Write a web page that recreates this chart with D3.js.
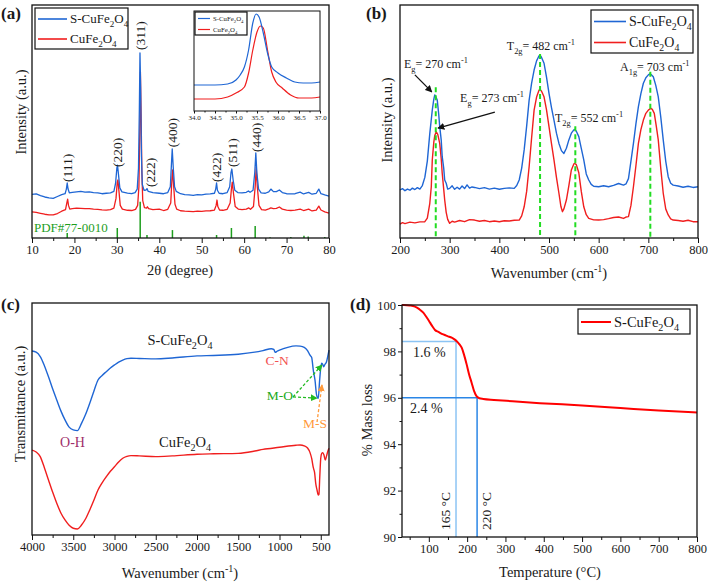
<!DOCTYPE html>
<html><head><meta charset="utf-8">
<script src="https://cdn.jsdelivr.net/npm/d3@7"></script>
<style>
body{margin:0;background:#fff}
svg{display:block}
svg text{font-family:"Liberation Serif","Times New Roman",Times,serif !important;fill:#1a1a1a}
</style>
</head><body>
<svg id="fig" width="708" height="584"></svg>
<script>
// ===================== DATA =====================
// (a) XRD patterns: [2theta, intensity (a.u.)]
const xrdBlue = [[10,18.7],[11,18.9],[12,18.2],[13,17.6],[14,17.2],[15,17.0],[16,17.8],[17,18.6],[17.8,19.0],[18.1,21.0],[18.3,23.6],[18.5,21.0],[18.8,19.4],[19.5,19.6],[20.5,19.8],[21.5,20.0],[22.5,19.7],[23.5,19.8],[24.5,19.5],[25.5,19.4],[26.5,19.0],[27.5,19.2],[28.5,19.4],[29.3,20.0],[29.7,23.5],[30.0,30.0],[30.15,31.3],[30.4,27],[30.7,21.5],[31.2,19.8],[32.5,19.3],[33.5,19.0],[34.3,19.5],[34.8,21],[35.1,30],[35.3,55],[35.45,79.4],[35.6,65],[35.8,35],[36.0,23],[36.4,20.5],[36.9,20.6],[37.1,21.2],[37.4,20],[38.5,19.5],[40,19.2],[41,19.0],[42,19.5],[42.6,22],[42.9,33],[43.05,38.2],[43.3,30],[43.6,22],[44,20],[45,19.0],[46,18.6],[47,18.5],[48,18.3],[49,18.6],[50,18.5],[51,18.8],[52,18.9],[53,19.2],[53.3,21],[53.5,23.6],[53.7,20.5],[54.1,19.2],[55,19.0],[56,19.5],[56.6,22],[56.9,28],[57.1,29.6],[57.4,25],[57.8,20.5],[58.5,19.5],[59.5,19.4],[60.5,19.6],[61,20.2],[61.4,19.6],[62.1,20.5],[62.5,28],[62.75,36.5],[63.0,28],[63.4,21],[64,19.4],[65,19.2],[65.8,19.8],[66.3,21],[66.9,19.9],[67.6,19.9],[68.3,20.6],[69,19.5],[70,19],[71,18.9],[72,19],[73.2,19.7],[74,18.9],[75.2,19.6],[76,18.8],[77,19.2],[77.6,21],[78.1,19],[79,18.5],[80,18.0]];
const xrdRed = [[10,11.2],[11,11.0],[12,10.6],[13,10.2],[14,9.9],[15,9.9],[16,10.5],[17,11.5],[17.9,12.2],[18.2,15],[18.4,16.7],[18.6,14],[18.9,12.4],[19.5,12.6],[20.5,12.8],[21.5,12.7],[22.5,12.6],[23.5,12.6],[24.5,12.4],[25.5,12.3],[26.5,12.1],[27.5,12.0],[28.5,12.2],[29.3,12.8],[29.8,17],[30.1,24],[30.25,24.9],[30.5,20],[30.8,14],[31.3,12.4],[32.5,11.9],[33.5,11.8],[34.4,12.3],[34.9,14],[35.2,22],[35.4,45],[35.55,71.2],[35.7,55],[35.9,28],[36.1,16],[36.5,13],[37.0,12.8],[37.2,13.4],[37.5,12.6],[38.5,12.2],[40,12.4],[41,11.8],[42,12.3],[42.7,15],[43.0,26],[43.15,29.2],[43.4,22],[43.7,14.5],[44.1,12.4],[45,11.7],[46,11.5],[47,11.4],[48,11.3],[49,11.5],[50,11.4],[51,11.6],[52,11.7],[53,12.0],[53.4,14],[53.6,16.3],[53.8,13.5],[54.2,12],[55,11.9],[56,12.3],[56.7,15],[57.0,21],[57.2,24],[57.5,19],[57.9,13.5],[58.6,12.4],[59.5,12.2],[60.5,12.4],[61.1,12.9],[61.5,12.3],[62.2,13.5],[62.6,22],[62.85,30.5],[63.1,22],[63.5,14],[64.1,12.2],[65,12.0],[65.8,12.5],[66.3,12.9],[66.9,12.6],[67.6,12.7],[68.3,13.3],[69,12.4],[70,12],[71,11.8],[72,12],[73.2,12.4],[74,11.8],[75.2,12.4],[76,11.6],[77,12.0],[77.6,13.7],[78.1,12],[79,11.2],[80,10.7]];
// reference pattern PDF#77-0010 : positions and heights
const refPos = [18.3,30.1,35.5,37.1,43.1,53.5,57.0,62.6,66.1,71.0,74.1,75.1,79.0];
const refHeight = [2.1,4.3,15.6,1.3,3.4,1.3,4.3,5.2,0.3,0.4,1.0,0.6,0.4];
const xrdLabels = ["(111)","(220)","(311)","(222)","(400)","(422)","(511)","(440)"];
const xrdLabelPos = [18.3,30.1,35.6,37.8,43.1,53.5,57.2,62.8];
const xrdLabelBase = [24,30.5,80.7,21.9,39,24,30.5,36.9];
const xrdTicks = [10,20,30,40,50,60,70,80];
// inset (311) zoom
const insetBlue = [[34.0,26],[34.5,26],[34.8,27],[35.0,31],[35.1,36],[35.2,44],[35.3,61],[35.4,88],[35.48,97],[35.55,94],[35.65,78],[35.75,58],[35.85,44],[36.0,38],[36.2,33],[36.4,29],[36.6,28],[36.8,28],[37.0,29]];
const insetRed = [[34.0,12],[34.5,12],[34.8,14],[35.0,18],[35.2,24],[35.3,38],[35.4,61],[35.5,79],[35.58,85],[35.65,83],[35.75,61],[35.85,39],[35.95,29],[36.1,23],[36.3,16],[36.5,13],[36.8,13],[37.0,14]];
const insetTicks = [34.0,34.5,35.0,35.5,36.0,36.5,37.0];

// (b) Raman spectra: [wavenumber, intensity]
const ramanBlue = [[200,20.6],[205,21.2],[210,20.3],[215,21.0],[220,20.5],[225,21.4],[230,20.8],[235,21.6],[240,21.0],[245,22.5],[250,26],[255,33],[260,44.9],[265,54.9],[268,59.5],[270,61.4],[273,60.2],[275,59.2],[278,53],[280,47.8],[283,42],[285,34.9],[288,30],[290,24.9],[293,23.5],[296,21],[300,21.3],[305,22.4],[310,20.9],[315,21.8],[320,21.0],[325,22.3],[330,21.2],[335,22.8],[340,21.4],[345,21.9],[350,21.7],[360,21.2],[370,21.6],[380,21.0],[390,21.4],[400,20.9],[410,21.3],[420,21.5],[430,21.3],[435,22.5],[440,24.9],[445,30],[450,37.8],[455,48],[460,59.2],[465,66.5],[470,72.1],[475,76],[480,78.2],[482,78.5],[485,77.5],[490,75],[495,69],[500,62.1],[505,56],[510,50.6],[515,45],[520,40.6],[525,37.5],[530,36.3],[535,38.5],[540,42.1],[545,45],[550,46.4],[552,46.6],[555,45.8],[560,43.5],[565,38.5],[570,33.5],[575,27.5],[580,24.9],[585,23],[590,22.2],[600,22.0],[610,22.4],[620,22.0],[630,22.6],[640,23.4],[650,22.7],[655,23.2],[660,25.5],[665,33],[670,40.6],[675,49],[680,56.4],[685,62],[690,66.4],[695,68.8],[700,70],[703,70.4],[706,70.1],[710,69.2],[715,65.5],[720,60.6],[725,52],[730,42.1],[735,33],[740,26.3],[745,23.5],[750,22.7],[760,22.3],[770,21.8],[780,22.2],[790,21.7],[800,22.0]];
const ramanRed = [[200,6.0],[205,6.6],[210,6.2],[220,6.8],[230,6.5],[240,6.9],[250,7.0],[255,8.5],[260,14.9],[263,22],[265,33.5],[268,41],[270,44],[273,45.6],[276,44.5],[280,40.6],[283,34],[285,27.8],[288,21],[290,16.3],[293,11],[296,8],[300,6.3],[305,7.2],[310,6.8],[320,7.5],[330,7.0],[340,7.9],[350,7.7],[360,7.2],[370,7.5],[380,7.0],[390,7.3],[400,7.0],[410,7.4],[420,7.3],[430,7.6],[440,7.7],[445,9.5],[450,13.4],[455,20],[460,30.6],[465,43],[470,54.9],[475,60.5],[480,63.5],[482,63.8],[485,63],[490,60.6],[495,55],[500,47.8],[505,40.5],[510,33.5],[515,26],[520,19.2],[524,13.5],[527,11.3],[530,12.5],[535,16.3],[540,22.5],[545,29.2],[550,31.8],[552,32],[555,31.5],[560,28],[565,20],[570,13.4],[575,10],[580,8.4],[590,7.8],[600,7.7],[610,7.9],[620,8.3],[630,8.8],[640,9.0],[650,8.4],[655,9.0],[660,9.2],[665,14],[670,22],[675,31],[680,40.6],[685,46.5],[690,50.6],[695,53.5],[700,54.9],[705,55.7],[708,55.2],[712,53.5],[716,48],[720,42.1],[725,30],[730,19.2],[735,12.5],[740,9.9],[745,8.2],[750,7.7],[760,7.5],[770,7.2],[780,7.6],[790,7.0],[800,7.0]];
const ramanTicks = [200,300,400,500,600,700,800];
const ramanPeakX = [272,482,553,704];
const ramanPeakTop = [64.7,79,48,71.4];
const ramanLabels = ["E{_g}= 270 cm{^-1}","E{_g}= 273 cm{^-1}","T{_2g}= 482 cm{^-1}","T{_2g}= 552 cm{^-1}","A{_1g}= 703 cm{^-1}"];
const ramanLabelX = [208,321,415,512,643];
const ramanLabelY = [73,58.4,80.7,49.8,71.7];
const ramanArrows = [[[230,70],[264,62.7]],[[391,54],[276.5,47.2]]];

// (c) FTIR spectra: [wavenumber, transmittance (a.u.)]
const ftirBlue = [[4000,79.3],[3950,78.8],[3900,76.9],[3850,73],[3800,68.2],[3750,63],[3700,58.2],[3650,53.5],[3600,49.6],[3550,46.5],[3500,45.3],[3450,45.0],[3400,48.1],[3350,52],[3300,56.8],[3250,62],[3200,66.8],[3150,68.8],[3100,70.4],[3050,72],[3000,73.3],[2950,74.5],[2900,75.4],[2850,76],[2800,76.2],[2700,76.1],[2500,75.9],[2300,76.3],[2000,77.2],[1800,77.4],[1500,77.9],[1300,78.8],[1200,79.5],[1100,80.3],[1070,80.0],[1050,78.7],[1030,79.2],[1000,79.7],[900,80.9],[800,81.5],[750,81.4],[700,80.9],[660,79.5],[630,77.5],[610,76.5],[590,71],[570,66.8],[550,60.3],[530,58.9],[515,66],[500,72],[488,74],[475,73.5],[465,72.5],[450,73.5],[430,74.7],[415,77],[400,79.7]];
const ftirRed = [[4000,36.6],[3950,35.8],[3900,33.8],[3850,29],[3800,23.7],[3750,18.5],[3700,13.7],[3650,9.5],[3600,6.5],[3550,4.2],[3500,2.9],[3450,2.6],[3400,4.3],[3350,7],[3300,10.8],[3250,15],[3200,19.4],[3150,22.5],[3100,25.1],[3050,27.5],[3000,29.4],[2950,31.5],[2900,33.1],[2850,33.9],[2800,34.2],[2700,34.1],[2500,33.8],[2300,34.1],[2000,34.8],[1800,35.0],[1500,35.2],[1300,36.2],[1200,36.9],[1000,37.8],[800,38.7],[750,38.8],[700,38.4],[660,37.5],[630,35.5],[610,33],[590,29],[575,27],[560,22],[545,19.4],[530,17.2],[522,17.5],[512,25],[500,33.1],[488,35.2],[475,35.5],[461,34.5],[445,32.3],[430,34],[415,36],[400,37.4]];
const ftirTicks = [4000,3500,3000,2500,2000,1500,1000,500];
const ftirText = ["S-CuFe{_2}O{_4}","CuFe{_2}O{_4}","O-H","C-N","M-O","M-S"];
const ftirTextX = [2206,2145,3509,1030,994,570];
const ftirTextY = [81.9,38,38,73.3,58.2,46];
const ftirArrows = [[[836,59.5],[485,73.3]],[[836,59.5],[545,59]],[[545,48.7],[485,64.7]]];

// (d) TGA: [temperature, % mass]
const tga = [[30,100],[35.2,100],[50,99.98],[63.9,99.93],[75,99.82],[85.6,99.67],[95,99.45],[103.1,99.24],[110,99.06],[116.1,98.92],[125,98.84],[137.8,98.73],[150,98.65],[159.7,98.59],[166,98.53],[172.8,98.44],[180,98.3],[185.8,98.16],[192,97.85],[198.9,97.43],[205,97.02],[211.9,96.64],[218,96.3],[225,96.06],[232,95.98],[242.2,95.95],[270,95.91],[303.3,95.87],[390,95.77],[500,95.67],[600,95.56],[700,95.45],[800,95.37]];
const tgaTicksX = [100,200,300,400,500,600,700,800];
const tgaTicksY = [90,92,94,96,98,100];
const tgaGuideT = [171,226];
const tgaGuideM = [98.43,96.0];
const tgaTempLabels = ["165 °C","220 °C"];
const tgaTempLabelT = [142,251];
const tgaPctLabels = ["1.6 %","2.4 %"];
const tgaPctT = [58.7,51];
const tgaPctM = [97.74,95.35];

// ===================== DRAWING =====================
const FONT = '"Liberation Serif","Times New Roman",Times,serif';
const BLUE = "#1f66d4", RED = "#f01e1e";
const TICK_FS = 12.5, TITLE_FS = 14.5;
const svg = d3.select("#fig");
svg.append("rect").attr("width",708).attr("height",584).attr("fill","#fff");
const defs = svg.append("defs");
function marker(id, color){
  defs.append("marker").attr("id",id).attr("viewBox","0 0 10 10").attr("refX",9).attr("refY",5)
    .attr("markerWidth",7).attr("markerHeight",7).attr("markerUnits","userSpaceOnUse").attr("orient","auto")
    .append("path").attr("d","M0,0L10,5L0,10Z").attr("fill",color);
}
marker("arK","#111"); marker("arG","#22bb22"); marker("arO","#ff9a3c");

function rich(t, str, fs){
  const re = /\{([_^])([^}]*)\}/g; let last=0, m; const parts=[];
  while((m=re.exec(str))){ if(m.index>last) parts.push(["n",str.slice(last,m.index)]); parts.push([m[1],m[2]]); last=re.lastIndex; }
  if(last<str.length) parts.push(["n",str.slice(last)]);
  let shift=0;
  parts.forEach(([k,s])=>{
    const target = k==="_"? fs*0.3 : k==="^"? -fs*0.42 : 0;
    const ts = t.append("tspan").text(s).attr("font-size", k==="n"? fs : fs*0.7);
    if(target-shift!==0) ts.attr("dy", target-shift);
    shift = target;
  });
  return t;
}
function txt(g, x, y, str, fs, opts={}){
  const t = g.append("text").attr("x",x).attr("y",y).attr("text-anchor",opts.anchor||"start").style("font-family",FONT);
  if(opts.fill) t.style("fill",opts.fill);
  if(opts.weight) t.attr("font-weight",opts.weight);
  if(opts.rotate!==undefined){ t.attr("x",0).attr("y",0).attr("transform",`translate(${x},${y}) rotate(${opts.rotate})`); }
  return rich(t, str, fs);
}
function styleAxis(sel, fs){
  sel.attr("font-family",FONT).attr("font-size",fs);
  sel.select(".domain").remove();
  sel.selectAll("line").attr("stroke","#111").attr("stroke-width",1);
  sel.selectAll("text").attr("font-size",fs).style("font-family",FONT).style("fill","#1a1a1a");
}
function xAxis(g, x, y0, major, minor, fs, size=5, fmt=d3.format("d")){
  const a = d3.axisBottom(x).tickValues(major).tickSize(size).tickPadding(2).tickFormat(fmt);
  g.append("g").attr("transform",`translate(0,${y0})`).call(a).call(s=>styleAxis(s,fs));
  g.append("g").attr("transform",`translate(0,${y0})`).call(d3.axisBottom(x).tickValues(minor).tickSize(size*0.6).tickFormat("")).call(s=>styleAxis(s,fs));
}
function frame(g, x0, y0, x1, y1, w=1.3){
  g.append("rect").attr("x",x0).attr("y",y0).attr("width",x1-x0).attr("height",y1-y0)
    .attr("fill","none").attr("stroke","#111").attr("stroke-width",w);
}
function curve(g, data, x, y, color, w=1.4, c=d3.curveLinear){
  g.append("path").datum(data).attr("fill","none").attr("stroke",color).attr("stroke-width",w)
    .attr("stroke-linejoin","round").attr("d",d3.line().x(d=>x(d[0])).y(d=>y(d[1])).curve(c));
}
function legend(g, x0, y0, w, h, items, fs, lineLen, rowH, lw=1.6){
  g.append("rect").attr("x",x0).attr("y",y0).attr("width",w).attr("height",h).attr("fill","#fff").attr("stroke","#111").attr("stroke-width",1.2);
  items.forEach((it,i)=>{
    const yy = y0 + rowH*(i+0.5) + 1;
    g.append("line").attr("x1",x0+3).attr("x2",x0+3+lineLen).attr("y1",yy).attr("y2",yy).attr("stroke",it[1]).attr("stroke-width",lw);
    txt(g, x0+6+lineLen, yy+fs*0.33, it[0], fs);
  });
}
function arrow(g, p0, p1, x, y, color, id, dash){
  const l = g.append("line").attr("x1",x(p0[0])).attr("y1",y(p0[1])).attr("x2",x(p1[0])).attr("y2",y(p1[1]))
    .attr("stroke",color).attr("stroke-width",1.3).attr("marker-end",`url(#${id})`);
  if(dash) l.attr("stroke-dasharray",dash);
}
function vtext(g, x, y, s, fs){
  g.append("text").attr("transform",`translate(${x},${y}) rotate(-90)`).attr("dy","0.35em")
    .attr("font-size",fs).style("font-family",FONT).text(s);
}
const range = (a,b,s)=>d3.range(a,b+s/2,s);

// ---------- (a) ----------
{
  const g = svg.append("g");
  const x = d3.scaleLinear().domain([10,80]).range([32,329]);
  const y = d3.scaleLinear().domain([0,100]).range([238,5]);
  refPos.forEach((p,i)=>{
    g.append("line").attr("x1",x(p)).attr("x2",x(p)).attr("y1",y(0)).attr("y2",y(refHeight[i])).attr("stroke","#1e9e1e").attr("stroke-width",1.5);
  });
  curve(g, xrdRed, x, y, RED, 1.3);
  curve(g, xrdBlue, x, y, BLUE, 1.3);
  txt(g, 34, 232, "PDF#77-0010", 13, {fill:"#1e9e1e"});
  xrdLabels.forEach((s,i)=> vtext(g, x(xrdLabelPos[i]), y(xrdLabelBase[i]), s, 13.5));
  frame(g,32,5,329,238);
  xAxis(g, x, 238, xrdTicks, range(15,75,10), TICK_FS);
  txt(g, 180, 275, "2θ (degree)", TITLE_FS, {anchor:"middle"});
  txt(g, 26, 112, "Intensity (a.u.)", TITLE_FS, {anchor:"middle", rotate:-90});
  legend(g, 35, 8, 93, 41, [["S-CuFe{_2}O{_4}",BLUE],["CuFe{_2}O{_4}",RED]], 13, 29, 20);
  // inset
  const xi = d3.scaleLinear().domain([34,37]).range([194,320]);
  const yi = d3.scaleLinear().domain([0,100]).range([111,11]);
  g.append("rect").attr("x",194).attr("y",11).attr("width",126).attr("height",100).attr("fill","#fff");
  curve(g, insetRed, xi, yi, RED, 1.2, d3.curveMonotoneX);
  curve(g, insetBlue, xi, yi, BLUE, 1.2, d3.curveMonotoneX);
  frame(g,194,11,320,111,1);
  xAxis(g, xi, 111, insetTicks, [34.25,34.75,35.25,35.75,36.25,36.75], 7, 2.5, d3.format(".1f"));
  legend(g, 195, 12, 52, 23, [["S-CuFe{_2}O{_4}",BLUE],["CuFe{_2}O{_4}",RED]], 6.8, 12, 11, 1.2);
  txt(g, 1, 19, "(a)", 17, {weight:"bold"});
}

// ---------- (b) ----------
{
  const g = svg.append("g");
  const x = d3.scaleLinear().domain([200,800]).range([400,698]);
  const y = d3.scaleLinear().domain([0,100]).range([238,5]);
  curve(g, ramanRed, x, y, RED, 1.4);
  curve(g, ramanBlue, x, y, BLUE, 1.4);
  ramanPeakX.forEach((p,i)=>{
    g.append("line").attr("x1",x(p)).attr("x2",x(p)).attr("y1",y(ramanPeakTop[i])).attr("y2",y(0))
      .attr("stroke","#22dd22").attr("stroke-width",2).attr("stroke-dasharray","5,3");
  });
  ramanLabels.forEach((s,i)=> txt(g, x(ramanLabelX[i]), y(ramanLabelY[i]), s, 12));
  ramanArrows.forEach(a=> arrow(g, a[0], a[1], x, y, "#111", "arK"));
  frame(g,400,5,698,238);
  xAxis(g, x, 238, ramanTicks, range(250,750,100), TICK_FS);
  txt(g, 549, 278, "Wavenumber (cm{^-1})", TITLE_FS, {anchor:"middle"});
  txt(g, 392, 120, "Intensity (a.u.)", TITLE_FS, {anchor:"middle", rotate:-90});
  legend(g, 591, 10, 102, 43, [["S-CuFe{_2}O{_4}",BLUE],["CuFe{_2}O{_4}",RED]], 14, 32, 21);
  txt(g, 366, 19, "(b)", 17, {weight:"bold"});
}

// ---------- (c) ----------
{
  const g = svg.append("g");
  const x = d3.scaleLinear().domain([4000,400]).range([32,329]);
  const y = d3.scaleLinear().domain([0,100]).range([535,303]);
  curve(g, ftirRed, x, y, RED, 1.4, d3.curveMonotoneX);
  curve(g, ftirBlue, x, y, BLUE, 1.4, d3.curveMonotoneX);
  const cols = ["#1a1a1a","#1a1a1a","#a0306a","#f25050","#22aa22","#ff9a3c"];
  const sizes = [14.5,14.5,14,13.5,13.5,13.5];
  ftirText.forEach((s,i)=> txt(g, x(ftirTextX[i]), y(ftirTextY[i]), s, sizes[i], {anchor:"middle", fill:cols[i]}));
  ftirArrows.forEach((a,i)=> arrow(g, a[0], a[1], x, y, i<2?"#22bb22":"#ff9a3c", i<2?"arG":"arO", "3,2"));
  frame(g,32,303,329,535);
  xAxis(g, x, 535, ftirTicks, range(750,3750,500), TICK_FS);
  txt(g, 180, 578, "Wavenumber (cm{^-1})", TITLE_FS, {anchor:"middle"});
  txt(g, 25, 404, "Transmittance (a.u.)", TITLE_FS, {anchor:"middle", rotate:-90});
  txt(g, 1, 310, "(c)", 17, {weight:"bold"});
}

// ---------- (d) ----------
{
  const g = svg.append("g");
  const x = d3.scaleLinear().domain([30,800]).range([402,697]);
  const y = d3.scaleLinear().domain([90,100]).range([537,305]);
  const guideCols = ["#8cc4f4","#2a86e6"];
  tgaGuideT.forEach((t,i)=>{
    g.append("line").attr("x1",x(30)).attr("x2",x(t)).attr("y1",y(tgaGuideM[i])).attr("y2",y(tgaGuideM[i])).attr("stroke",guideCols[i]).attr("stroke-width",1.5);
    g.append("line").attr("x1",x(t)).attr("x2",x(t)).attr("y1",y(tgaGuideM[i])).attr("y2",y(90)).attr("stroke",guideCols[i]).attr("stroke-width",1.5);
  });
  curve(g, tga, x, y, "#ff0000", 2, d3.curveMonotoneX);
  tgaPctLabels.forEach((s,i)=> txt(g, x(tgaPctT[i]), y(tgaPctM[i]), s, 14));
  tgaTempLabels.forEach((s,i)=> vtext(g, x(tgaTempLabelT[i]), y(90.3), s, 13.5));
  frame(g,402,305,697,537);
  xAxis(g, x, 537, tgaTicksX, range(50,750,100), TICK_FS);
  g.append("g").attr("transform","translate(402,0)").call(d3.axisLeft(y).tickValues(tgaTicksY).tickSize(4).tickPadding(2)).call(s=>styleAxis(s,TICK_FS));
  g.append("g").attr("transform","translate(402,0)").call(d3.axisLeft(y).tickValues([91,93,95,97,99]).tickSize(2.5).tickFormat("")).call(s=>styleAxis(s,TICK_FS));
  txt(g, 550, 577, "Temperature (°C)", TITLE_FS, {anchor:"middle"});
  txt(g, 372, 420, "% Mass loss", TITLE_FS, {anchor:"middle", rotate:-90});
  legend(g, 578, 309, 112, 25, [["S-CuFe{_2}O{_4}","#ff0000"]], 14.5, 30, 24, 2);
  txt(g, 350, 310, "(d)", 17, {weight:"bold"});
}
</script>
</body></html>
